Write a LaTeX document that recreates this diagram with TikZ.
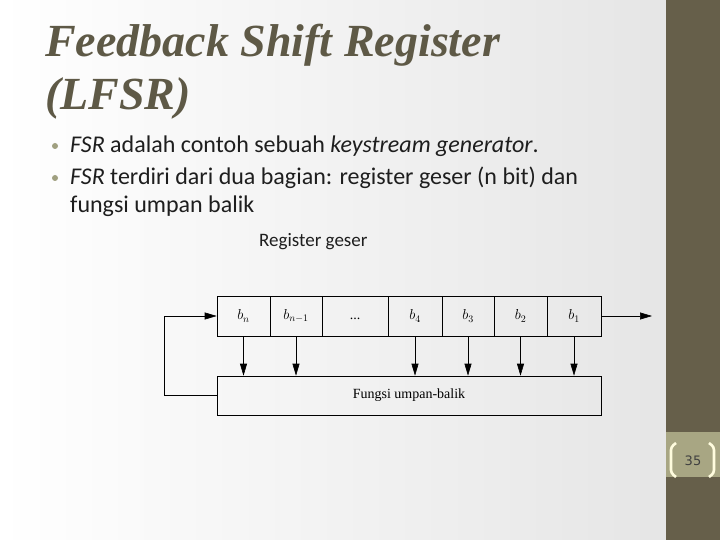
\documentclass[tikz,border=0pt]{standalone}
\usepackage{fontspec}
\setmainfont{Carlito}
\newfontfamily\titlefont{Liberation Serif}
\newfontfamily\diagfont{Liberation Serif}
\newfontfamily\numfont{DejaVu Sans}
\usetikzlibrary{arrows.meta}
\definecolor{titlecol}{RGB}{94,89,70}
\definecolor{bandcol}{RGB}{102,95,74}
\definecolor{numbox}{RGB}{168,166,131}
\definecolor{bracketcol}{RGB}{255,252,222}
\definecolor{bulletcol}{RGB}{160,160,128}
\definecolor{bodycol}{RGB}{30,30,30}
\tikzset{
  cell/.style={draw, line width=0.6pt, minimum width=#1, minimum height=40pt,
    inner sep=0pt, font=\fontsize{14}{16}\selectfont},
  tap/.style={-{Triangle[length=12pt,width=7pt]}, line width=0.6pt},
  bodytext/.style={anchor=base west, inner sep=0pt, text=bodycol,
    font=\fontsize{24}{28}\selectfont},
  bulletdot/.style={circle, fill=bulletcol, inner sep=0pt, minimum size=6pt},
  bracket/.style={draw=bracketcol, line width=2.6pt, rounded corners=3pt}
}
\begin{document}
\begin{tikzpicture}[x=1pt,y=-1pt]
\useasboundingbox (0,0) rectangle (720,540);
\shade[left color=white, right color=black!10] (0,0) rectangle (666,540);
\fill[bandcol] (666,0) rectangle (720,540);
\fill[numbox] (666,432) rectangle (720,477);
% title
\node[anchor=base west, inner sep=0pt, text=titlecol,
  font=\titlefont\bfseries\itshape\fontsize{46}{53}\selectfont] (title1) at (45,57) {Feedback Shift Register};
\node[anchor=base west, inner sep=0pt, text=titlecol,
  font=\titlefont\bfseries\itshape\fontsize{46}{53}\selectfont] (title2) at (45,110) {(LFSR)};
% bullets
\node[bulletdot] (dot1) at (55,146) {};
\node[bodytext] (item1) at (70,153) {\textit{FSR} adalah contoh sebuah \textit{keystream generator}.};
\node[bulletdot] (dot2) at (55,178) {};
\node[bodytext] (item2) at (70,185) {\textit{FSR} terdiri dari dua bagian: register geser (n bit) dan};
\node[bodytext] (item2b) at (70,213) {fungsi umpan balik};
\node[anchor=base west, inner sep=0pt, text=bodycol, font=\fontsize{19}{22}\selectfont] (regtitle) at (259,247) {Register geser};
% register cells
\node[cell=53pt] (bn) at (243.5,316) {$b_n$};
\node[cell=52pt] (bn1) at (296,316) {$b_{n-1}$};
\node[cell=66pt, font=\diagfont\fontsize{14}{16}\selectfont] (dots) at (355,316) {\strut...};
\node[cell=54pt] (b4) at (415,316) {$b_4$};
\node[cell=52pt] (b3) at (468,316) {$b_3$};
\node[cell=53pt] (b2) at (520.5,316) {$b_2$};
\node[cell=54pt] (b1) at (574,316) {$b_1$};
\node[draw, line width=0.6pt, minimum width=384pt, minimum height=39pt, inner sep=0pt,
  font=\diagfont\fontsize{14}{16}\selectfont] (fungsi) at (409,395.5) {Fungsi umpan-balik};
% taps and feedback
\foreach \c in {bn,bn1,b4,b3,b2,b1}
  \draw[tap] (\c.south) -- (\c.south |- fungsi.north);
\coordinate (loop) at (164,316);
\coordinate (out) at (652,316);
\draw[tap] (fungsi.west) -| (loop) -- (bn.west);
\draw[tap] (b1.east) -- (out);
% page number
\node[text=black!75, font=\numfont\fontsize{13}{15}\selectfont] (pagenum) at (693,461) {35};
\draw[bracket] (676,443) -- (671,447) -- (671,473) -- (676,477);
\draw[bracket] (709,443) -- (714,447) -- (714,473) -- (709,477);
\end{tikzpicture}
\end{document}
